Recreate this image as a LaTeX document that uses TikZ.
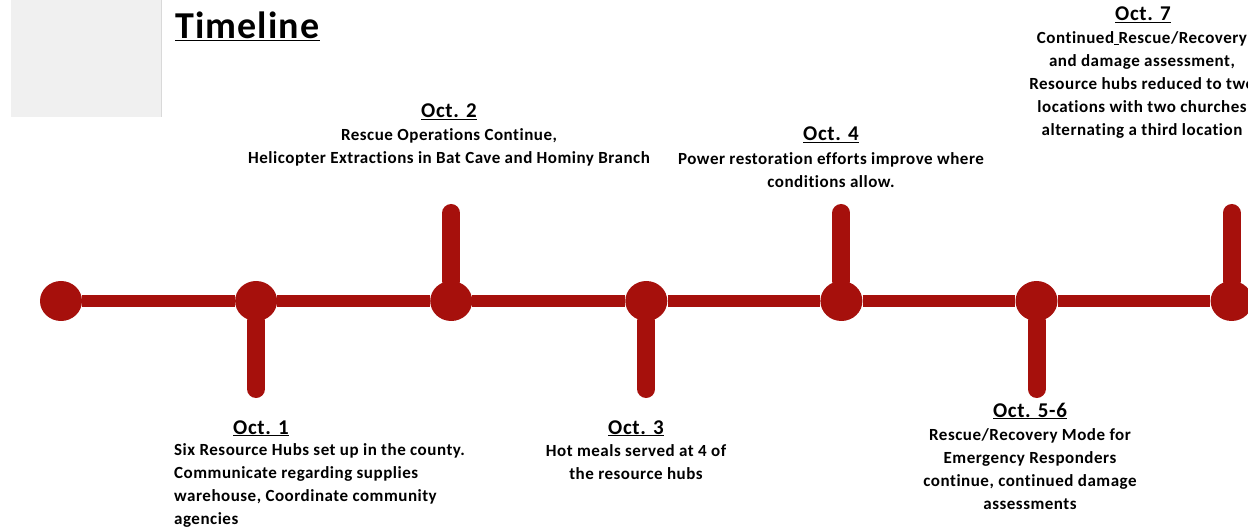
\documentclass[tikz,border=0pt]{standalone}
\usepackage{fontspec}
\setmainfont{Carlito}[Ligatures=NoCommon,LetterSpace=3]
\usetikzlibrary{positioning,shapes.geometric}
\definecolor{tlred}{RGB}{166,16,12}
\definecolor{panelgray}{RGB}{240,240,240}

\begin{document}
\begin{tikzpicture}[
        x=1pt,y=-1pt,
        font=\bfseries,
        node distance=152.7pt,
        dot/.style={ellipse,fill=tlred,minimum width=42pt,minimum height=40pt,inner sep=0pt},
        axis/.style={draw=tlred,line width=12pt},
        stem/.style={draw=tlred,line width=18pt,line cap=round},
        panel/.style={rectangle,fill=panelgray,minimum width=150pt,minimum height=117pt,inner sep=0pt},
        date/.style={font=\bfseries\fontsize{21}{25}\selectfont,inner sep=0pt,anchor=base},
        note/.style={font=\bfseries\fontsize{17}{23}\selectfont,align=center,inner sep=0pt}
    ]
        \useasboundingbox (0,0) rectangle (1248,529);
        \clip (0,0) rectangle (1248,529);

        \node[panel,anchor=north west] (panel) at (11,0) {};
        \draw[black!15] (panel.north east) -- (panel.south east);
        \node[anchor=base west,inner sep=0pt,font=\bfseries\fontsize{38}{44}\selectfont] (title) at (175,39) {\underline{Timeline}};

        \node[dot] (d0) at (61,301) {};
        \node[dot,right=of d0] (d1) {};
        \node[dot,right=of d1] (d2) {};
        \node[dot,right=of d2] (d3) {};
        \node[dot,right=of d3] (d4) {};
        \node[dot,right=of d4] (d5) {};
        \node[dot,right=of d5] (d6) {};

        \coordinate[below=88pt of d1.center] (s1);
        \coordinate[above=88pt of d2.center] (s2);
        \coordinate[below=88pt of d3.center] (s3);
        \coordinate[above=88pt of d4.center] (s4);
        \coordinate[below=88pt of d5.center] (s5);
        \coordinate[above=88pt of d6.center] (s6);

        \draw[axis] (d0) -- (d1) -- (d2) -- (d3) -- (d4) -- (d5) -- (d6);
        \draw[stem] (d1) -- (s1);
        \draw[stem] (d2) -- (s2);
        \draw[stem] (d3) -- (s3);
        \draw[stem] (d4) -- (s4);
        \draw[stem] (d5) -- (s5);
        \draw[stem] (d6) -- (s6);

        \node[date] (h1) at (261,434) {\underline{Oct. 1}};
        \node[note,align=left,anchor=west] (n1) at (174,485.5) {Six Resource Hubs set up in the county.\\Communicate regarding supplies\\warehouse, Coordinate community\\agencies};

        \node[date] (h2) at (449,118) {\underline{Oct. 2}};
        \node[note] (n2) at (449,147.5) {Rescue Operations Continue,\\Helicopter Extractions in Bat Cave and Hominy Branch};

        \node[date] (h3) at (636,434) {\underline{Oct. 3}};
        \node[note] (n3) at (636,462.5) {Hot meals served at 4 of\\the resource hubs};

        \node[date] (h4) at (831,141) {\underline{Oct. 4}};
        \node[note] (n4) at (831,170.5) {Power restoration efforts improve where\\conditions allow.};

        \node[date] (h5) at (1030,417) {\underline{Oct. 5-6}};
        \node[note] (n5) at (1030,469.5) {Rescue/Recovery Mode for\\Emergency Responders\\continue, continued damage\\assessments};

        \node[date] (h6) at (1143,21) {\underline{Oct. 7}};
        \node[note] (n6) at (1142,84.5) {Continued\underline{\ }Rescue/Recovery\\and damage assessment,\\Resource hubs reduced to two\\locations with two churches\\alternating a third location};
    \end{tikzpicture}
\end{document}
